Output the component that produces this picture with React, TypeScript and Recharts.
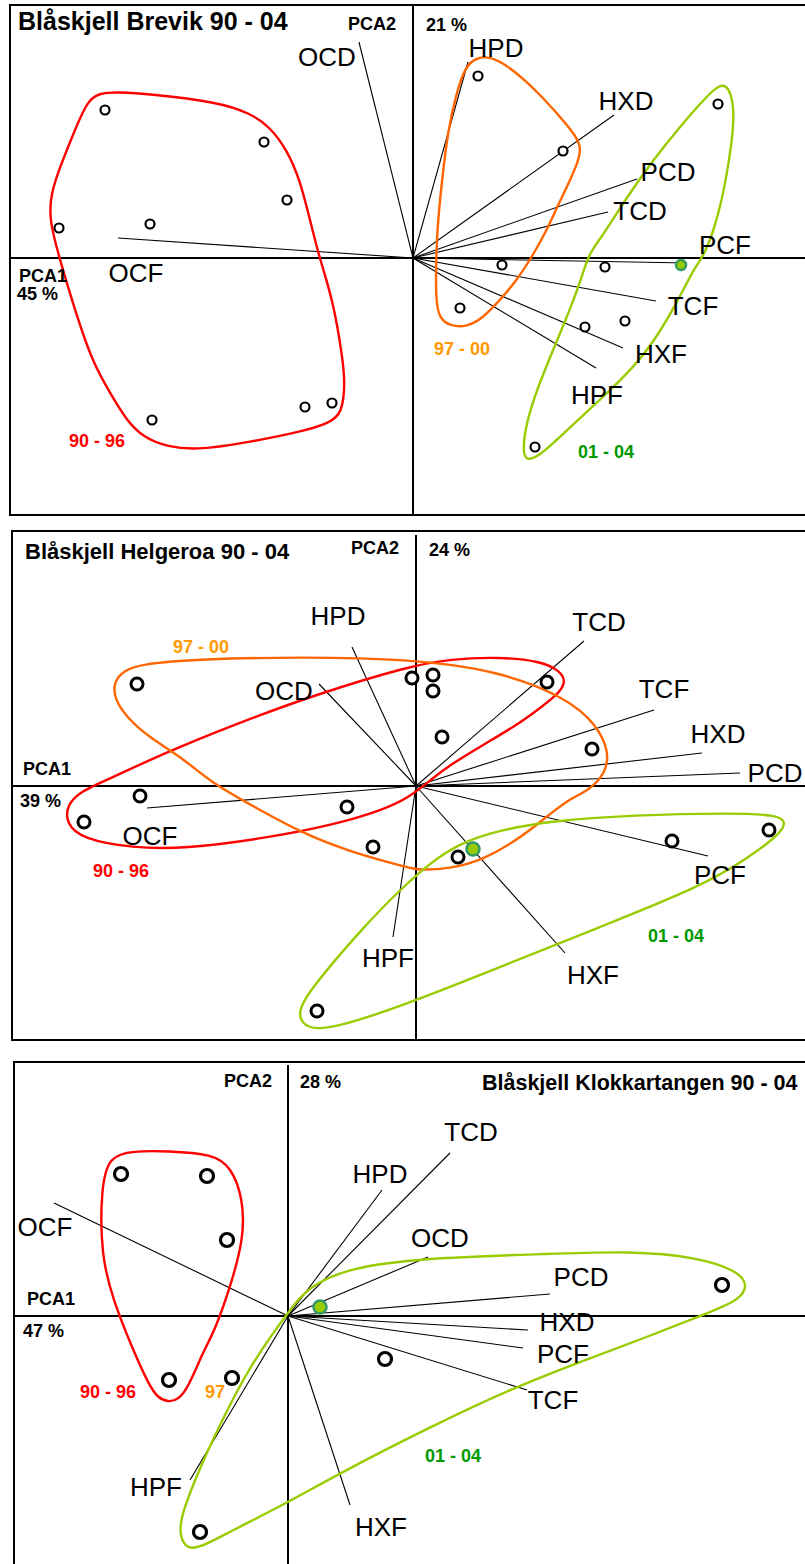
import React from 'react';
import { ScatterChart, Scatter, XAxis, YAxis, ReferenceLine } from 'recharts';

type Pt = [number, number];

const FONT = '"Liberation Sans", Arial, Helvetica, sans-serif';
const PAGE_W = 805;
const PAGE_H = 1564;

const loadingNames = ['OCD', 'HPD', 'HXD', 'PCD', 'TCD', 'PCF', 'TCF', 'HXF', 'HPF', 'OCF'];
const groupColors = ['#ff0000', '#ff6600', '#99cc00'];
const groupTextColors = ['#ff0000', '#ff9900', '#009900'];

// ---------- Blåskjell Brevik 90 - 04 ----------
const brevikVariance = ['45 %', '21 %'];
const brevikGroupLabels = ['90 - 96', '97 - 00', '01 - 04'];
const brevikSamples: Pt[] = [
  [-3.08, 1.48], [-1.49, 1.16], [-1.26, 0.58], [-3.54, 0.3], [-2.63, 0.34],
  [-2.61, -1.62], [-1.08, -1.49], [-0.81, -1.45], [0.65, 1.82], [1.5, 1.07],
  [3.05, 1.54], [0.89, -0.07], [1.92, -0.09], [0.47, -0.5], [1.72, -0.69],
  [2.12, -0.63], [1.22, -1.89],
];
const brevikHighlight: Pt[] = [[2.68, -0.07]];
// same order as loadingNames
const brevikLoadings: Pt[] = [
  [-0.54, 2.16], [0.55, 1.96], [2.01, 1.43], [2.24, 0.79], [1.95, 0.46],
  [2.74, -0.05], [2.43, -0.43], [2.1, -0.9], [1.83, -1.1], [-2.95, 0.2],
];
const brevikHull9096: Pt[] = [
  [-2.96, 1.66], [-2.63, 1.64], [-1.96, 1.56], [-1.63, 1.45], [-1.43, 1.31], [-1.26, 1.08],
  [-1.13, 0.78], [-1.03, 0.38], [-0.93, -0.02], [-0.8, -0.42], [-0.7, -1.02], [-0.68, -1.27],
  [-0.71, -1.55], [-0.83, -1.65], [-1.13, -1.74], [-1.63, -1.84], [-2.13, -1.92], [-2.46, -1.89],
  [-2.7, -1.79], [-2.86, -1.63], [-3.03, -1.35], [-3.2, -1.05], [-3.36, -0.59], [-3.53, -0.02],
  [-3.64, 0.38], [-3.62, 0.65], [-3.53, 0.91], [-3.37, 1.31], [-3.25, 1.58], [-3.13, 1.65],
];
const brevikHull9700: Pt[] = [
  [0.65, 2.01], [0.77, 2.01], [0.92, 1.94], [1.12, 1.78], [1.32, 1.58], [1.5, 1.38], [1.62, 1.23],
  [1.68, 1.11], [1.66, 0.98], [1.54, 0.71], [1.44, 0.51], [1.34, 0.28], [1.2, 0.03], [1.04, -0.22],
  [0.87, -0.42], [0.7, -0.6], [0.54, -0.69], [0.37, -0.68], [0.26, -0.6], [0.23, -0.42],
  [0.23, -0.12], [0.24, 0.28], [0.29, 0.78], [0.35, 1.28], [0.43, 1.63], [0.52, 1.92],
];
const brevikHull0104: Pt[] = [
  [3.07, 1.74], [3.16, 1.71], [3.21, 1.51], [3.2, 1.25], [3.15, 0.91], [3.09, 0.58], [3.0, 0.25],
  [2.9, 0.01], [2.8, -0.12], [2.64, -0.45], [2.4, -0.85], [2.2, -1.1], [1.87, -1.42], [1.54, -1.72],
  [1.27, -1.98], [1.13, -2.03], [1.1, -1.93], [1.12, -1.72], [1.2, -1.42], [1.37, -0.99],
  [1.54, -0.59], [1.67, -0.25], [1.76, 0.05], [1.87, 0.18], [2.14, 0.61], [2.4, 0.98],
  [2.7, 1.35], [2.94, 1.62],
];

// ---------- Blåskjell Helgeroa 90 - 04 ----------
const helgeroaVariance = ['39 %', '24 %'];
const helgeroaGroupLabels = ['90 - 96', '97 - 00', '01 - 04'];
const helgeroaSamples: Pt[] = [
  [-2.79, 1.02], [-0.04, 1.08], [0.17, 1.11], [0.17, 0.95], [1.31, 1.04], [0.26, 0.49],
  [1.76, 0.37], [-2.76, -0.1], [-3.32, -0.36], [-0.69, -0.21], [-0.43, -0.61], [-0.99, -2.25],
  [0.42, -0.71], [2.56, -0.55], [3.53, -0.44],
];
const helgeroaHighlight: Pt[] = [[0.57, -0.63]];
const helgeroaLoadings: Pt[] = [
  [-0.97, 1.02], [-0.64, 1.39], [2.86, 0.33], [3.24, 0.13], [1.68, 1.45],
  [2.92, -0.7], [2.38, 0.76], [1.49, -1.67], [-0.23, -1.51], [-2.69, -0.22],
];
const helgeroaHull9096: Pt[] = [
  [-3.5, -0.37], [-3.49, -0.19], [-3.36, -0.06], [-3.16, 0.03], [-2.49, 0.34], [-1.83, 0.61],
  [-0.99, 0.92], [-0.06, 1.2], [0.34, 1.27], [0.84, 1.29], [1.24, 1.25], [1.45, 1.15],
  [1.5, 1.03], [1.41, 0.91], [1.24, 0.78], [1.01, 0.61], [0.67, 0.41], [0.34, 0.21], [0.17, 0.08],
  [-0.06, -0.11], [-0.33, -0.24], [-0.83, -0.39], [-1.49, -0.52], [-2.33, -0.63], [-2.83, -0.62],
  [-3.34, -0.53],
];
const helgeroaHull9700: Pt[] = [
  [-3.02, 0.88], [-3.02, 1.04], [-2.93, 1.15], [-2.76, 1.22], [-2.16, 1.27], [-1.16, 1.29],
  [-0.06, 1.27], [0.84, 1.15], [1.51, 0.88], [1.81, 0.61], [1.93, 0.34], [1.9, 0.14], [1.74, -0.04],
  [1.51, -0.14], [1.27, -0.34], [1.01, -0.54], [0.67, -0.74], [0.34, -0.83], [0.01, -0.84],
  [-0.06, -0.82], [-0.66, -0.66], [-1.16, -0.46], [-1.56, -0.24], [-2.06, 0.04], [-2.33, 0.28],
  [-2.66, 0.48], [-2.89, 0.68],
];
const helgeroaHull0104: Pt[] = [
  [-1.19, -2.28], [-1.09, -2.07], [-0.49, -1.37], [-0.16, -1.04], [0.14, -0.77], [0.44, -0.57],
  [0.84, -0.44], [1.34, -0.35], [2.17, -0.29], [3.17, -0.27], [3.62, -0.29], [3.7, -0.36],
  [3.65, -0.47], [3.34, -0.71], [2.84, -1.01], [1.84, -1.41], [0.84, -1.81], [-0.06, -2.17],
  [-0.83, -2.43], [-1.1, -2.43],
];

// ---------- Blåskjell Klokkartangen 90 - 04 ----------
const klokkVariance = ['47 %', '28 %'];
const klokkGroupLabels = ['90 - 96', '97', '01 - 04'];
const klokkSamples: Pt[] = [
  [-1.67, 1.42], [-0.81, 1.4], [-0.61, 0.76], [-1.19, -0.64], [-0.56, -0.62],
  [-0.88, -2.16], [0.97, -0.43], [4.34, 0.31],
];
const klokkHighlight: Pt[] = [[0.32, 0.09]];
const klokkLoadings: Pt[] = [
  [1.4, 0.59], [0.94, 1.26], [2.4, -0.14], [2.62, 0.22], [1.62, 1.63],
  [2.35, -0.32], [2.39, -0.74], [0.62, -1.89], [-0.98, -1.64], [-2.34, 1.13],
];
const klokkHull9096: Pt[] = [
  [-1.55, 1.65], [-1.21, 1.65], [-0.75, 1.62], [-0.57, 1.49], [-0.45, 1.18], [-0.44, 0.78],
  [-0.58, 0.28], [-0.73, -0.14], [-0.85, -0.36], [-1.0, -0.72], [-1.1, -0.84], [-1.2, -0.86],
  [-1.3, -0.82], [-1.39, -0.69], [-1.55, -0.34], [-1.75, 0.16], [-1.87, 0.61], [-1.87, 1.28],
  [-1.79, 1.6],
];
const klokkHull0104: Pt[] = [
  [-1.02, -2.33], [-1.09, -2.17], [-1.06, -1.97], [-0.88, -1.51], [-0.61, -0.94], [-0.38, -0.51],
  [-0.15, -0.17], [0.02, 0.06], [0.19, 0.28], [0.59, 0.48], [1.35, 0.58], [2.59, 0.62],
  [3.42, 0.65], [4.09, 0.59], [4.5, 0.45], [4.6, 0.31], [4.52, 0.16], [4.15, 0.01], [3.59, -0.21],
  [2.92, -0.46], [2.25, -0.72], [1.42, -1.11], [0.52, -1.57], [-0.01, -1.87], [-0.55, -2.14],
  [-0.88, -2.32],
];

// ---------- layout (pixels) ----------
type Xy = [number, number];
type Layout = {
  left: number; top: number; bottom: number; ox: number; oy: number; axisTop: number;
  dotR: number; dotW: number; markR: number;
  title: string; titlePos: Xy; titleSize: number;
  pca2: Xy; pct2: Xy; pca1: Xy; pct1: Xy; groupPos: Xy[];
  labelOffset: Record<string, Xy>;
};

const brevikLayout: Layout = {
  left: 10, top: 5, bottom: 515, ox: 413, oy: 258, axisTop: 5, dotR: 4.5, dotW: 2.2, markR: 5,
  title: 'Blåskjell Brevik 90 - 04', titlePos: [18, 30], titleSize: 25,
  pca2: [348, 30], pct2: [426, 31], pca1: [19, 282], pct1: [17, 300],
  groupPos: [[69, 447], [434, 355], [578, 458]],
  labelOffset: {
    OCD: [-32, 15], HPD: [28, -14], HXD: [12, -14], PCD: [31, -7], TCD: [32, -1],
    PCF: [38, -18], TCF: [37, 5], HXF: [38, 6], HPF: [1, 27], OCF: [18, 35],
  },
};
const helgeroaLayout: Layout = {
  left: 12, top: 531, bottom: 1040, ox: 416, oy: 786, axisTop: 535, dotR: 6, dotW: 3, markR: 6.5,
  title: 'Blåskjell Helgeroa 90 - 04', titlePos: [25, 559], titleSize: 22,
  pca2: [351, 554], pct2: [429, 556], pca1: [23, 775], pct1: [20, 807],
  groupPos: [[93, 877], [173, 653], [648, 942]],
  labelOffset: {
    HPD: [-14, -31], OCD: [-35, 7], TCD: [15, -19], TCF: [10, -21], HXD: [16, -19],
    PCD: [35, 0], OCF: [3, 28], HPF: [-5, 21], HXF: [28, 22], PCF: [12, 19],
  },
};
const klokkLayout: Layout = {
  left: 14, top: 1062, bottom: 1564, ox: 288, oy: 1316, axisTop: 1065, dotR: 6.5, dotW: 3.2, markR: 6.5,
  title: 'Blåskjell Klokkartangen 90 - 04', titlePos: [482, 1090], titleSize: 21.5,
  pca2: [224, 1087], pct2: [300, 1088], pca1: [27, 1305], pct1: [23, 1337],
  groupPos: [[80, 1398], [205, 1398], [425, 1462]],
  labelOffset: {
    OCF: [-9, 24], HPD: [-2, -16], TCD: [21, -21], OCD: [12, -19], PCD: [31, -17],
    HXD: [39, -8], PCF: [40, 6], TCF: [26, 10], HXF: [31, 22], HPF: [-34, 7],
  },
};

type Panel = {
  layout: Layout;
  samples: Pt[];
  highlight: Pt[];
  loadings: Pt[];
  hulls: (Pt[] | null)[];
  groupLabels: string[];
  variance: string[];
};

const panels: Panel[] = [
  {
    layout: brevikLayout, samples: brevikSamples, highlight: brevikHighlight, loadings: brevikLoadings,
    hulls: [brevikHull9096, brevikHull9700, brevikHull0104], groupLabels: brevikGroupLabels, variance: brevikVariance,
  },
  {
    layout: helgeroaLayout, samples: helgeroaSamples, highlight: helgeroaHighlight, loadings: helgeroaLoadings,
    hulls: [helgeroaHull9096, helgeroaHull9700, helgeroaHull0104], groupLabels: helgeroaGroupLabels, variance: helgeroaVariance,
  },
  {
    layout: klokkLayout, samples: klokkSamples, highlight: klokkHighlight, loadings: klokkLoadings,
    hulls: [klokkHull9096, null, klokkHull0104], groupLabels: klokkGroupLabels, variance: klokkVariance,
  },
];

const toObj = (pts: Pt[]) => pts.map(([x, y]) => ({ x, y }));
const noShape = () => <g />;

const Biplot: React.FC<{ panel: Panel }> = ({ panel }) => {
  const L = panel.layout;
  const width = PAGE_W - L.left;
  const height = L.bottom - L.top;
  const xDomain = [(L.left - L.ox) / 100, (PAGE_W - L.ox) / 100];
  const yDomain = [(L.oy - L.bottom) / 100, (L.oy - L.top) / 100];
  const axisTopY = (L.oy - L.axisTop) / 100;
  const tips = panel.loadings.map(([x, y], i) => ({ x, y, name: loadingNames[i] }));

  const openDot = (p: any) => (
    <circle cx={p.cx} cy={p.cy} r={L.dotR} fill="#fff" stroke="#000" strokeWidth={L.dotW} />
  );
  const markDot = (p: any) => (
    <circle cx={p.cx} cy={p.cy} r={L.markR} fill="#99cc00" stroke="#339966" strokeWidth={2.5} />
  );
  const tipLabel = (p: any) => {
    const name = p.payload?.name ?? p.name;
    const [dx, dy] = L.labelOffset[name] || [0, 0];
    return (
      <text x={p.cx + dx} y={p.cy + dy + 9} textAnchor="middle" fontSize={26} fontFamily={FONT} fill="#000">
        {name}
      </text>
    );
  };

  return (
    <div style={{ position: 'absolute', left: L.left, top: L.top }}>
      <ScatterChart width={width} height={height} margin={{ top: 0, right: 0, bottom: 0, left: 0 }}>
        <XAxis type="number" dataKey="x" domain={xDomain} hide allowDataOverflow />
        <YAxis type="number" dataKey="y" domain={yDomain} hide allowDataOverflow />
        <ReferenceLine
          segment={[{ x: 0, y: yDomain[0] }, { x: 0, y: axisTopY }]}
          stroke="#000"
          strokeWidth={2}
        />
        <ReferenceLine y={0} stroke="#000" strokeWidth={2} />
        {tips.map((t) => (
          <ReferenceLine
            key={t.name}
            segment={[{ x: 0, y: 0 }, { x: t.x, y: t.y }]}
            stroke="#000"
            strokeWidth={1.1}
          />
        ))}
        {panel.hulls.map((h, i) =>
          h ? (
            <Scatter
              key={`hull-${i}`}
              data={toObj(h)}
              line={{ stroke: groupColors[i], strokeWidth: 2.4 }}
              lineJointType="basisClosed"
              shape={noShape}
              isAnimationActive={false}
            />
          ) : null
        )}
        <Scatter data={toObj(panel.samples)} shape={openDot} isAnimationActive={false} />
        <Scatter data={toObj(panel.highlight)} shape={markDot} isAnimationActive={false} />
        <Scatter data={tips} shape={tipLabel} isAnimationActive={false} />
      </ScatterChart>
    </div>
  );
};

const Annotations: React.FC = () => (
  <svg
    width={PAGE_W}
    height={PAGE_H}
    style={{ position: 'absolute', left: 0, top: 0, pointerEvents: 'none' }}
    fontFamily={FONT}
  >
    {panels.map((panel, k) => {
      const L = panel.layout;
      return (
        <g key={k}>
          <rect
            x={L.left}
            y={L.top}
            width={PAGE_W - L.left + 20}
            height={L.bottom - L.top + (k === 2 ? 20 : 0)}
            fill="none"
            stroke="#000"
            strokeWidth={2}
          />
          <text x={L.titlePos[0]} y={L.titlePos[1]} fontSize={L.titleSize} fontWeight="bold">{L.title}</text>
          <text x={L.pca2[0]} y={L.pca2[1]} fontSize={18} fontWeight="bold">PCA2</text>
          <text x={L.pct2[0]} y={L.pct2[1]} fontSize={18} fontWeight="bold">{panel.variance[1]}</text>
          <text x={L.pca1[0]} y={L.pca1[1]} fontSize={18} fontWeight="bold">PCA1</text>
          <text x={L.pct1[0]} y={L.pct1[1]} fontSize={18} fontWeight="bold">{panel.variance[0]}</text>
          {panel.groupLabels.map((g, i) => (
            <text key={g} x={L.groupPos[i][0]} y={L.groupPos[i][1]} fontSize={18} fontWeight="bold" fill={groupTextColors[i]}>
              {g}
            </text>
          ))}
        </g>
      );
    })}
  </svg>
);

export default function App() {
  return (
    <div
      style={{
        position: 'absolute',
        left: 0,
        top: 0,
        width: PAGE_W,
        height: PAGE_H,
        overflow: 'hidden',
        background: '#fff',
      }}
    >
      {panels.map((p, i) => (
        <Biplot key={i} panel={p} />
      ))}
      <Annotations />
    </div>
  );
}
